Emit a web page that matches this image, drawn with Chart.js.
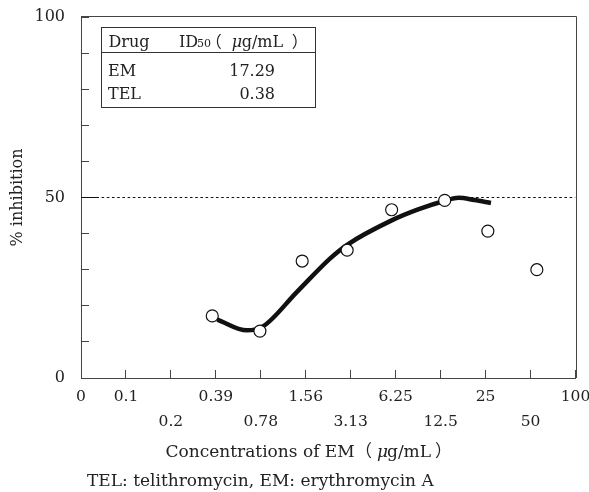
<!DOCTYPE html>
<html><head><meta charset="utf-8">
<script src="https://cdn.jsdelivr.net/npm/chart.js@4/dist/chart.umd.min.js"></script>
<style>html,body{margin:0;padding:0;background:#fff}#wrap{width:589px;height:492px}</style>
</head><body><div id="wrap"><canvas id="c" width="589" height="492"></canvas></div>
<script>
// ---- data (x positions are on the equally spaced concentration index axis) ----
const tickLabels = ['0','0.1','0.2','0.39','0.78','1.56','3.13','6.25','12.5','25','50','100'];
const pointX = [2.92, 3.98, 4.92, 5.92, 6.91, 8.09, 9.05, 10.14];
const pointY = [17.2, 13.0, 32.4, 35.4, 46.6, 49.2, 40.7, 30.0];
const curveX = [3.03, 3.69, 4.05, 4.8, 5.55, 5.92, 6.9, 7.5, 8.1, 8.4, 8.75, 9.12];
const curveY = [16.2, 13.2, 14.3, 23.8, 33.2, 36.9, 43.6, 46.7, 49.1, 49.9, 49.3, 48.5];
const refX = [0, 0.4, 11];
const refY = [50, 50, 50];
const yLabelValues = [0, 50, 100];
const tableHeader = ['Drug', 'ID', '50'];
const tableDrugs = ['EM', 'TEL'];
const tableValues = ['17.29', '0.38'];
const xTitle = 'Concentrations of EM';
const unitText = ['（', 'μ', 'g/mL', '）'];
const footer = 'TEL: telithromycin, EM: erythromycin A';

const SERIF = '"DejaVu Serif", serif';
const CJK = '"Noto Sans CJK JP", "DejaVu Serif", serif';
const TXT = '#222';
const AX = '#444';

const zip = (xs, ys) => xs.map((x, i) => ({x, y: ys[i]}));

function inkText(ctx, text, font, inkLeft, y) {
  ctx.font = font; ctx.textAlign = 'left';
  const m = ctx.measureText(text);
  ctx.fillText(text, inkLeft + (m.actualBoundingBoxLeft || 0), y);
}
function drawUnit(ctx, xs, y, sz) {
  inkText(ctx, unitText[0], sz + 'px ' + CJK, xs[0], y);
  inkText(ctx, unitText[1], 'italic ' + sz + 'px ' + SERIF, xs[1], y);
  inkText(ctx, unitText[2], sz + 'px ' + SERIF, xs[2], y);
  inkText(ctx, unitText[3], sz + 'px ' + CJK, xs[3], y);
}

const extras = {
  id: 'extras',
  afterDraw(chart) {
    const ctx = chart.ctx, a = chart.chartArea;
    ctx.save();
    // frame (top & right)
    ctx.strokeStyle = AX; ctx.lineWidth = 1;
    ctx.beginPath();
    ctx.moveTo(a.left, Math.round(a.top) - 0.5);
    ctx.lineTo(Math.round(a.right) + 0.5, Math.round(a.top) - 0.5);
    ctx.lineTo(Math.round(a.right) + 0.5, a.bottom);
    ctx.stroke();
    // table
    ctx.strokeStyle = '#333';
    ctx.strokeRect(101.5, 27.5, 214, 80);
    ctx.beginPath(); ctx.moveTo(101.5, 52.5); ctx.lineTo(315.5, 52.5); ctx.stroke();
    ctx.fillStyle = TXT; ctx.textBaseline = 'alphabetic';
    inkText(ctx, tableHeader[0], '16px ' + SERIF, 108.5, 46.5);
    inkText(ctx, tableHeader[1], '16px ' + SERIF, 179, 46.5);
    inkText(ctx, tableHeader[2], '11px ' + SERIF, 197, 46.5);
    drawUnit(ctx, [216.7, 231.7, 241.7, 291.7], 46.5, 16);
    inkText(ctx, tableDrugs[0], '16px ' + SERIF, 108, 76);
    inkText(ctx, tableDrugs[1], '16px ' + SERIF, 108, 99);
    ctx.font = '16px ' + SERIF;
    ctx.textAlign = 'right';
    ctx.fillText(tableValues[0], 275, 76);
    ctx.fillText(tableValues[1], 275, 99);
    // x title
    inkText(ctx, xTitle, '17px ' + SERIF, 165.5, 457);
    drawUnit(ctx, [366, 377, 387, 435], 457, 17);
    // footer
    inkText(ctx, footer, '17px ' + SERIF, 87, 486);
    ctx.restore();
  }
};

new Chart(document.getElementById('c'), {
  type: 'line',
  data: {
    datasets: [
      { data: zip(pointX, pointY), showLine: false, pointRadius: 6, pointHoverRadius: 6,
        pointBackgroundColor: '#fff', pointBorderColor: '#111', pointBorderWidth: 1.2, order: 0 },
      { data: zip(curveX, curveY), borderColor: '#111', borderWidth: 4.5, pointRadius: 0,
        cubicInterpolationMode: 'monotone', fill: false, order: 1, borderCapStyle: 'butt' },
      { data: zip(refX, refY), borderColor: '#111', borderWidth: 1, pointRadius: 0, tension: 0, order: 2,
        segment: {
          borderDash: c => c.p0DataIndex === 0 ? [] : [2.6, 2.6],
          borderDashOffset: c => c.p0DataIndex === 0 ? 0 : 2.6
        } }
    ]
  },
  options: {
    responsive: false, devicePixelRatio: 1, animation: false,
    layout: { padding: { top: 17, right: 13.5, left: 0, bottom: 0 } },
    plugins: { legend: { display: false }, tooltip: { enabled: false } },
    scales: {
      x: {
        type: 'linear', position: 'bottom', min: 0, max: tickLabels.length - 1,
        ticks: {
          stepSize: 1, autoSkip: false, maxRotation: 0, color: TXT, padding: 14.5,
          font: { family: SERIF, size: 15.5, lineHeight: 1.613 },
          callback: v => {
            const i = Math.round(v), lab = tickLabels[i];
            return (i === 0 || i % 2 === 1) ? [lab] : ['', lab];
          }
        },
        grid: { drawOnChartArea: false, tickLength: -8, color: AX },
        border: { color: AX, width: 1 },
        afterFit: s => { s.height = 114; s.paddingLeft = 0; s.paddingRight = 0; }
      },
      y: {
        min: 0, max: 100, position: 'left',
        ticks: {
          stepSize: 10, color: TXT, padding: 24,
          font: { family: SERIF, size: 16 },
          callback: v => yLabelValues.includes(v) ? String(v) : ''
        },
        grid: { drawOnChartArea: false, tickLength: -8, color: AX },
        border: { color: AX, width: 1 },
        title: { display: true, text: '% inhibition', color: TXT,
          font: { family: SERIF, size: 16 }, padding: { top: 8.7, bottom: 0 } },
        afterFit: s => { s.width = 81; s.paddingTop = 0; s.paddingBottom = 0; }
      }
    }
  },
  plugins: [extras]
});
</script></body></html>
